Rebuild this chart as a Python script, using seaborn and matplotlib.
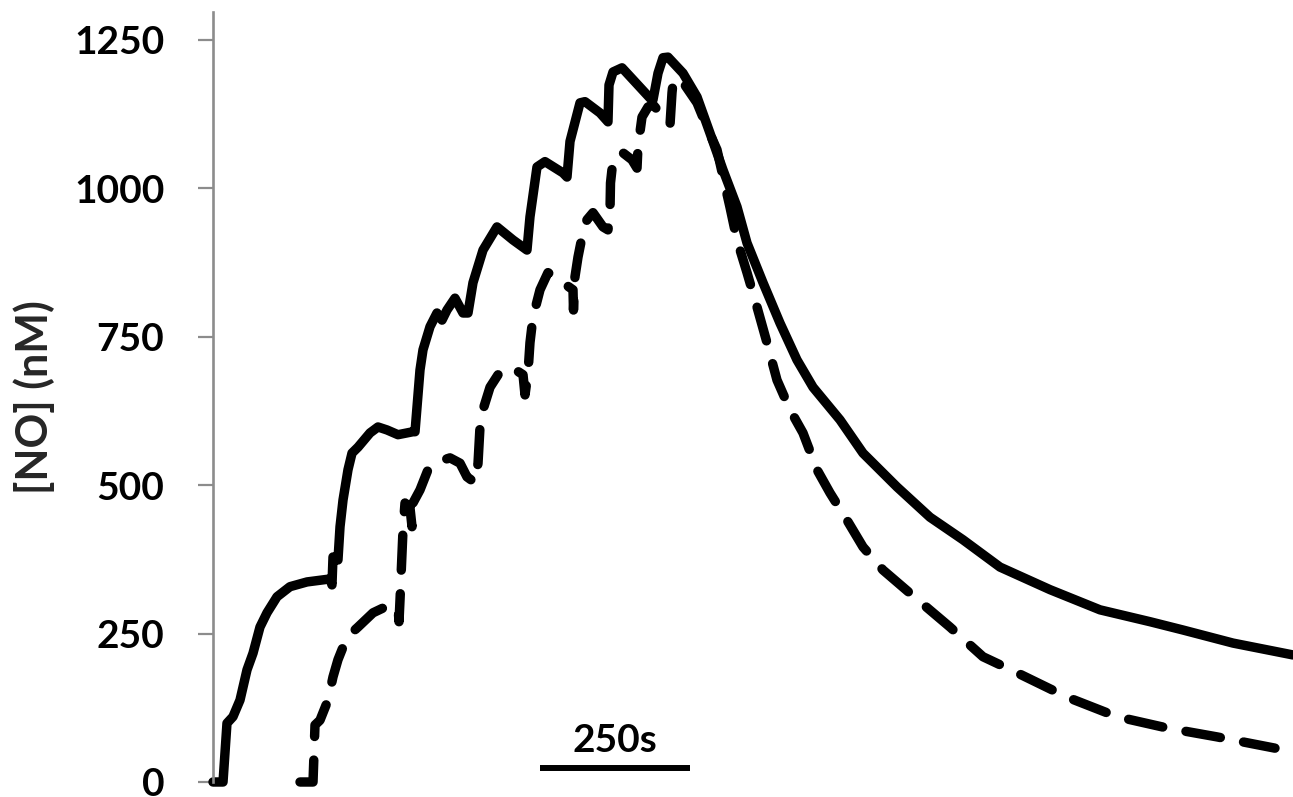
import matplotlib
matplotlib.use("Agg")
import matplotlib.pyplot as plt
from matplotlib import font_manager as fm
import seaborn as sns
import pandas as pd

# ---- data (time in s, [NO] in nM) ----
solid_t = [0, 16.7, 23.3, 33.3, 45, 56.7, 66.7, 78.3, 90, 106.7, 128.3, 156.7, 195, 198.3,
           200, 208.3, 211.7, 216.7, 225, 231.7, 241.7, 261.7, 275, 290, 308.3, 333.3,
           336.7, 345, 350, 361.7, 373.3, 381.7, 390, 403.3, 416.7, 425, 433.3, 450, 473.3,
           500, 523.3, 528.3, 540, 553.3, 583.3, 590, 595, 611.7, 620, 645, 658.3, 660,
           666.7, 681.7, 700, 728.3, 733.3, 741.7, 750, 758.3, 783.3, 806.7, 828.3, 850,
           873.3, 890, 916.7, 945, 973.3, 1000, 1045, 1083.3, 1140, 1195, 1250, 1311.7,
           1395, 1478.3, 1561.7, 1616.7, 1700, 1800]
solid_no = [0, 0, 99, 110, 138, 189, 217, 261, 285, 312, 329, 337, 342, 332,
            379, 374, 430, 475, 526, 554, 564, 588, 598, 593, 585, 590,
            590, 694, 728, 767, 790, 778, 795, 815, 790, 790, 841, 896, 935,
            913, 896, 952, 1036, 1045, 1026, 1019, 1079, 1144, 1146, 1127, 1112, 1174,
            1196, 1203, 1183, 1152, 1149, 1194, 1220, 1221, 1194, 1154, 1093, 1031,
            969, 908, 841, 773, 711, 665, 610, 554, 497, 446, 408, 362,
            324, 290, 270, 256, 234, 214]

dashed_t = [145, 166.7, 170, 178.3, 191.7, 200, 208.3, 223.3, 241.7, 266.7, 283.3, 308.3,
            310, 311.7, 316.7, 320, 328.3, 331.7, 333.3, 345, 358.3, 373.3, 395, 411.7,
            423.3, 436.7, 441.7, 445, 450, 461.7, 478.3, 500, 516.7, 520, 525, 528.3,
            533.3, 545, 558.3, 583.3, 600, 600.8, 603.3, 608.3, 615, 623.3, 633.3, 650,
            658.3, 661.7, 662.5, 666.7, 681.7, 698.3, 706.7, 708.3, 715, 725, 733.3, 745,
            761.7, 765, 766.7, 778.3, 806.7, 823.3, 840, 850, 861.7, 873.3, 890, 906.7,
            923.3, 940, 961.7, 983.3, 1006.7, 1028.3, 1056.7, 1083.3, 1116.7, 1161.7,
            1228.3, 1283.3, 1340, 1423.3, 1506.7, 1590, 1673.3, 1770]
dashed_no = [0, 0, 96, 104, 138, 177, 206, 244, 261, 285, 293, 295,
             270, 307, 425, 470, 462, 430, 470, 492, 526, 539, 546, 537,
             514, 504, 537, 598, 627, 665, 691, 697, 686, 652, 689, 740,
             783, 829, 858, 841, 829, 795, 851, 884, 918, 947, 959, 935,
             930, 964, 1009, 1048, 1061, 1048, 1034, 1070, 1120, 1137, 1141, 1127,
             1107, 1161, 1178, 1186, 1144, 1103, 1065, 1020, 968, 913, 858, 800,
             740, 677, 627, 588, 526, 487, 441, 396, 357, 318,
             261, 211, 184, 143, 110, 91, 76, 57]

y_ticks = [0, 250, 500, 750, 1000, 1250]
scale_bar_t = [545, 795]
scale_bar_label = "250s"
y_label = "[NO] (nM)"

df_solid = pd.DataFrame({"t": solid_t, "no": solid_no})
df_dashed = pd.DataFrame({"t": dashed_t, "no": dashed_no})

sns.set_theme(style="white")


def real_bold(fam):
    try:
        p = fm.findfont(fm.FontProperties(family=fam, weight="bold"),
                        fallback_to_default=False)
    except Exception:
        return False
    name = p.lower().split("/")[-1]
    return ("bold" in name) or ("black" in name) or ("heavy" in name)


family = "DejaVu Sans"
for fam in ["Lato", "Open Sans", "Noto Sans", "Roboto", "Liberation Sans"]:
    if real_bold(fam):
        family = fam
        break
plt.rcParams["font.family"] = [family, "DejaVu Sans"]

fig = plt.figure(figsize=(12.93, 7.97), dpi=100)
ax = fig.add_axes([213 / 1293, 15 / 797, 1080 / 1293, 770 / 797])

lw = 6.8
sns.lineplot(data=df_solid, x="t", y="no", ax=ax, sort=False, estimator=None,
             color="black", linewidth=lw, solid_capstyle="round",
             solid_joinstyle="round", clip_on=False)
sns.lineplot(data=df_dashed, x="t", y="no", ax=ax, sort=False, estimator=None,
             color="black", linewidth=lw, linestyle=(0, (3.7, 2.5)),
             dash_capstyle="round", dash_joinstyle="round", clip_on=False)

# scale bar
ax.plot(scale_bar_t, [24, 24], color="black", linewidth=4.3, solid_capstyle="butt",
        clip_on=False)
ax.text(sum(scale_bar_t) / 2, 50, scale_bar_label, ha="center", va="baseline",
        fontsize=28, fontweight="bold", color="black")

ax.set_xlim(0, 1800)
ax.set_ylim(0, 1297)
ax.set_yticks(y_ticks)
ax.set_yticklabels([str(v) for v in y_ticks], fontsize=28, fontweight="bold")
ax.set_xticks([])
ax.set_xlabel("")
ax.set_ylabel(y_label, fontsize=31, fontweight="bold")
ax.yaxis.set_label_coords(-0.146, 0.5)

for s in ["top", "right", "bottom"]:
    ax.spines[s].set_visible(False)
ax.spines["left"].set_color("#8c8c8c")
ax.spines["left"].set_linewidth(1.9)
ax.tick_params(axis="y", direction="out", length=11, width=1.6, color="#8c8c8c",
               pad=24, left=True, labelcolor="black")

fig.savefig("out.png", dpi=100, facecolor="white")
